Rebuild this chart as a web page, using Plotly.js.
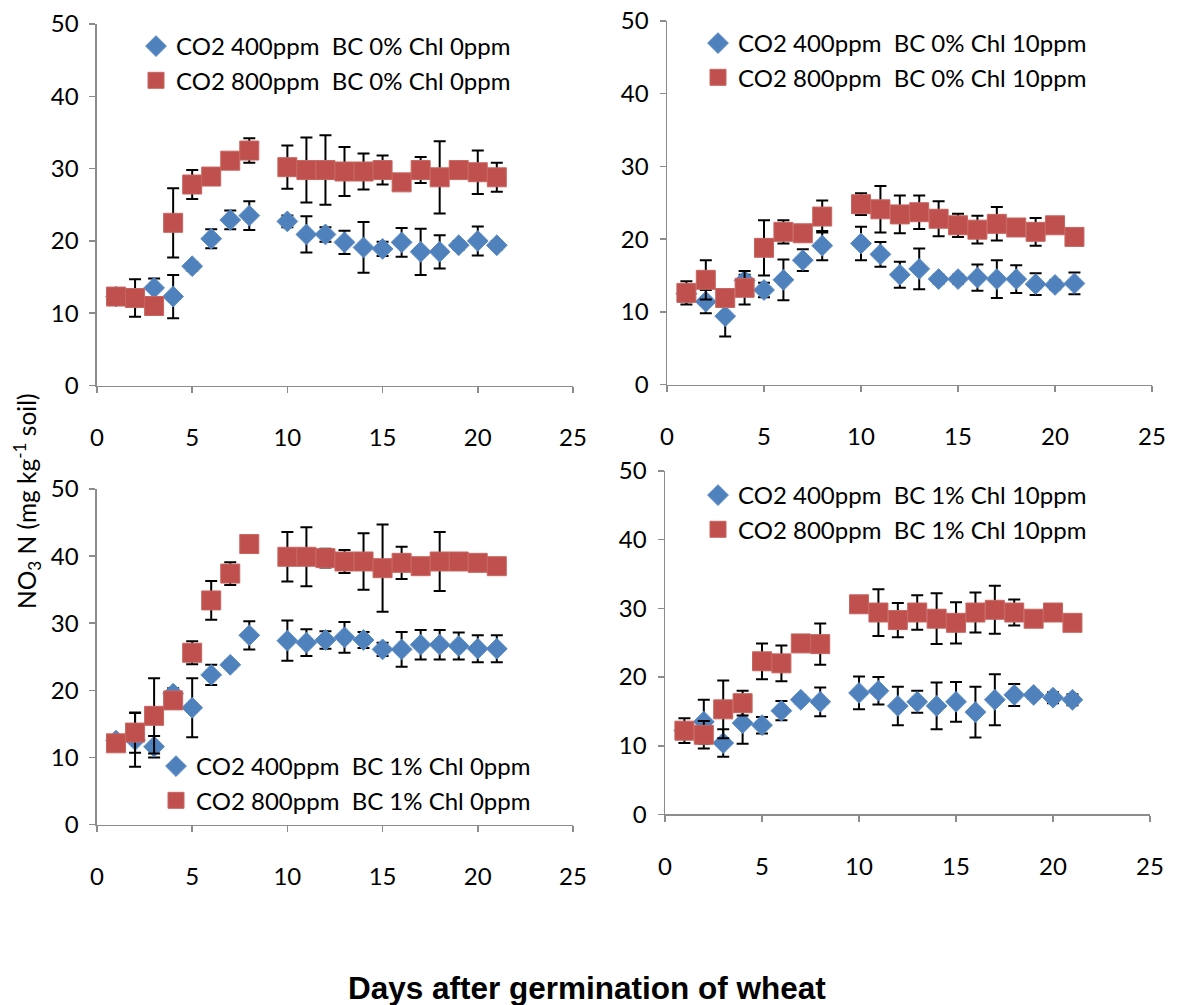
<!DOCTYPE html>
<html>
<head>
<meta charset="utf-8">
<script src="https://cdn.plot.ly/plotly-3.0.1.min.js"></script>
<style>html,body{margin:0;padding:0;background:#fff;}#chart{width:1177px;height:1005px;}</style>
</head>
<body>
<div id="chart"></div>
<script>
// Days after germination (no sample on day 9)
const days = [1,2,3,4,5,6,7,8,10,11,12,13,14,15,16,17,18,19,20,21];

// Panel 1: BC 0% Chl 0ppm
const a400  = [12.3,12.0,13.5,12.3,16.5,20.3,22.9,23.5,22.7,20.9,20.9,19.8,19.1,18.9,19.8,18.5,18.5,19.4,20.0,19.4];
const a400e = [0.8,1.0,1.3,3.0,0.6,1.3,1.3,2.0,0.8,2.5,1.0,1.6,3.5,1.0,2.0,3.2,2.3,0.6,2.0,0.6];
const a800  = [12.3,12.1,11.0,22.5,27.8,28.9,31.1,32.5,30.2,29.8,29.8,29.6,29.6,29.8,28.1,29.8,28.8,29.8,29.5,28.8];
const a800e = [0.8,2.6,0.8,4.8,2.0,1.0,1.0,1.7,3.0,4.5,4.8,3.4,2.5,2.0,1.0,1.8,5.0,0.8,3.0,2.0];

// Panel 2: BC 0% Chl 10ppm
const b400  = [12.5,11.4,9.4,14.3,13.0,14.4,17.1,19.1,19.4,17.9,15.1,15.9,14.5,14.5,14.7,14.5,14.5,13.8,13.7,13.9];
const b400e = [1.0,1.6,2.8,0.8,1.0,2.8,1.5,2.0,2.3,1.7,1.8,2.8,0.6,0.6,1.8,2.6,1.9,1.5,0.6,1.5];
const b800  = [12.6,14.4,11.9,13.3,18.8,21.0,20.8,23.1,24.8,24.1,23.4,23.7,22.8,21.9,21.3,22.1,21.6,21.0,21.9,20.3];
const b800e = [1.6,2.7,1.0,2.3,3.8,1.6,0.8,2.2,1.5,3.2,2.6,2.3,2.4,1.6,1.9,2.3,0.8,1.9,0.8,0.8];

// Panel 3: BC 1% Chl 0ppm
const c400  = [12.5,12.6,11.6,19.5,17.4,22.3,23.8,28.2,27.4,27.1,27.5,27.9,27.5,26.1,26.1,26.8,26.8,26.6,26.2,26.2];
const c400e = [0.8,4.0,1.6,0.8,4.4,1.5,0.6,2.1,3.0,2.0,1.3,2.3,1.2,1.0,2.6,2.2,2.2,2.0,2.0,2.0];
const c800  = [12.1,13.7,16.2,18.5,25.6,33.4,37.4,41.8,39.9,39.9,39.7,39.2,39.2,38.2,39.0,38.5,39.2,39.2,39.0,38.5];
const c800e = [0.8,3.0,5.6,1.0,1.7,2.9,1.7,0.6,3.7,4.4,1.4,1.7,4.2,6.5,2.4,0.8,4.4,0.8,0.8,0.8];

// Panel 4: BC 1% Chl 10ppm
const d400  = [12.2,13.5,10.4,13.3,13.0,15.1,16.7,16.4,17.7,18.0,15.8,16.4,15.8,16.4,14.9,16.7,17.4,17.4,17.0,16.7];
const d400e = [0.8,3.2,2.0,3.0,1.2,1.4,0.6,2.1,2.4,2.0,2.8,1.6,3.4,2.9,3.7,3.7,1.6,0.6,0.8,0.8];
const d800  = [12.2,11.6,15.3,16.2,22.3,22.0,24.9,24.8,30.6,29.4,28.3,29.4,28.5,27.9,29.4,29.8,29.4,28.5,29.4,27.9];
const d800e = [1.8,2.0,4.2,1.8,2.6,2.6,0.8,3.0,0.8,3.4,2.5,2.5,3.7,3.0,2.9,3.5,1.9,0.8,0.8,0.8];

const names = [
  ["CO2 400ppm\u00A0\u00A0BC 0% Chl\u00A00ppm",  "CO2 800ppm\u00A0\u00A0BC 0% Chl\u00A00ppm"],
  ["CO2 400ppm\u00A0\u00A0BC 0% Chl 10ppm", "CO2 800ppm\u00A0\u00A0BC 0% Chl 10ppm"],
  ["CO2 400ppm\u00A0\u00A0BC 1% Chl 0ppm",  "CO2 800ppm\u00A0\u00A0BC 1% Chl 0ppm"],
  ["CO2 400ppm\u00A0\u00A0BC 1% Chl 10ppm", "CO2 800ppm\u00A0\u00A0BC 1% Chl 10ppm"]
];
const tickLabelsX = ["0","5","10","15","20","25"];
const tickLabelsY = ["0","10","20","30","40","50"];

const BLUE = "#4F81BD", RED = "#C0504D";
const FONT = "Lato, 'Open Sans', sans-serif";

const panels = [
  {lo: a400, le: a400e, hi: a800, he: a800e},
  {lo: b400, le: b400e, hi: b800, he: b800e},
  {lo: c400, le: c400e, hi: c800, he: c800e},
  {lo: d400, le: d400e, hi: d800, he: d800e}
];

const traces = [];
panels.forEach((p, i) => {
  const ax = i === 0 ? "" : String(i + 1);
  const lg = i === 0 ? "legend" : "legend" + (i + 1);
  traces.push({
    x: days, y: p.lo, type: "scatter", mode: "markers", name: names[i][0],
    xaxis: "x" + ax, yaxis: "y" + ax, legend: lg, legendgroup: "g" + i + "a",
    marker: {symbol: "diamond", size: 16, color: BLUE, line: {width: 1, color: "#5B8CC6"}},
    error_y: {type: "data", array: p.le, visible: true, color: "#000", thickness: 2, width: 6}
  });
  traces.push({
    x: days, y: p.hi, type: "scatter", mode: "markers", name: names[i][1],
    xaxis: "x" + ax, yaxis: "y" + ax, legend: lg, legendgroup: "g" + i + "b",
    marker: {symbol: "square", size: 19, color: RED, line: {width: 1, color: "#C86560"}},
    error_y: {type: "data", array: p.he, visible: true, color: "#000", thickness: 2, width: 6}
  });
});

function xAxis(dom, anchor) {
  return {
    domain: dom, anchor: anchor, range: [0, 25], tickmode: "array",
    tickvals: tickLabelsX.map(Number), ticktext: tickLabelsX,
    showline: true, linecolor: "#8C8C8C", linewidth: 1.5, ticks: "outside", ticklen: 6,
    tickcolor: "#8C8C8C", tickwidth: 1.5, showgrid: false, zeroline: false,
    tickfont: {family: FONT, size: 24, color: "#000"}, ticklabelstandoff: 24, fixedrange: true
  };
}
function yAxis(dom, anchor) {
  return {
    domain: dom, anchor: anchor, range: [0, 50], tickmode: "array",
    tickvals: tickLabelsY.map(Number), ticktext: tickLabelsY,
    showline: true, linecolor: "#8C8C8C", linewidth: 1.5, ticks: "outside", ticklen: 6,
    tickcolor: "#8C8C8C", tickwidth: 1.5, showgrid: false, zeroline: false,
    tickfont: {family: FONT, size: 24, color: "#000"}, ticklabelstandoff: 6, fixedrange: true
  };
}
function legendAt(xpx, ypx) {
  return {
    x: xpx / 1177, y: 1 - ypx / 1005, xanchor: "left", yanchor: "top",
    bgcolor: "rgba(0,0,0,0)", font: {family: FONT, size: 24, color: "#000"},
    traceorder: "grouped", tracegroupgap: 0, itemsizing: "trace"
  };
}

const layout = {
  width: 1177, height: 1005,
  margin: {l: 0, r: 0, t: 0, b: 0},
  paper_bgcolor: "#fff", plot_bgcolor: "#fff",
  showlegend: true,
  xaxis:  xAxis([0.0824, 0.4868], "y"),
  yaxis:  yAxis([0.6164, 0.9761], "x"),
  xaxis2: xAxis([0.5667, 0.9788], "y2"),
  yaxis2: yAxis([0.6174, 0.9791], "x2"),
  xaxis3: xAxis([0.0824, 0.4868], "y3"),
  yaxis3: yAxis([0.1796, 0.5134], "x3"),
  xaxis4: xAxis([0.5650, 0.9771], "y4"),
  yaxis4: yAxis([0.1896, 0.5313], "x4"),
  legend:  legendAt(136, 24),
  legend2: legendAt(698, 21),
  legend3: legendAt(156, 744),
  legend4: legendAt(698, 473),
  annotations: [
    {text: "NO<sub>3</sub> N (mg kg<sup>-1</sup> soil)", xref: "paper", yref: "paper",
     x: 27 / 1177, y: 1 - 501 / 1005, xanchor: "center", yanchor: "middle", textangle: -90,
     showarrow: false, font: {family: FONT, size: 24.5, color: "#000"}},
    {text: "<b>Days after germination of wheat</b>", xref: "paper", yref: "paper",
     x: 587 / 1177, y: 1 - 988 / 1005, xanchor: "center", yanchor: "middle",
     showarrow: false, font: {family: "'Liberation Sans', Arial, sans-serif", size: 31.5, color: "#000"}}
  ]
};

Plotly.newPlot("chart", traces, layout, {displayModeBar: false, staticPlot: true});
</script>
</body>
</html>
